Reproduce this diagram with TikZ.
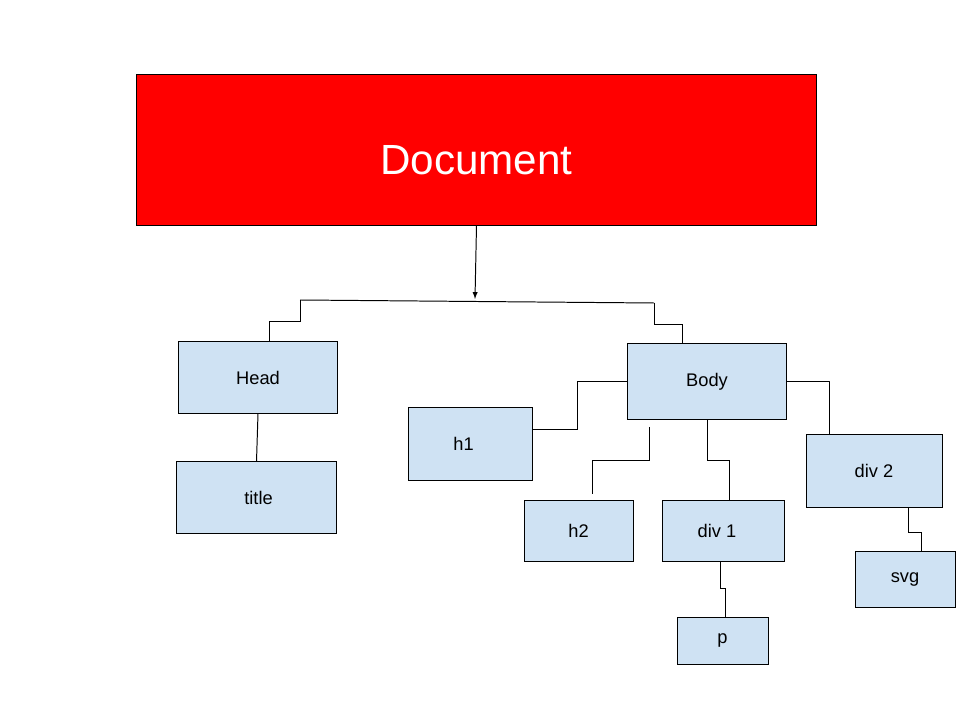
\documentclass[tikz,border=0pt]{standalone}
\usepackage{fontspec}
\setmainfont{Liberation Sans}
\usetikzlibrary{positioning}
\definecolor{docred}{HTML}{FF0000}
\definecolor{boxblue}{HTML}{CFE2F3}
\tikzset{
    box/.style={draw=black,fill=boxblue,line width=0.7pt,inner sep=0pt,font=\fontsize{13}{15}\selectfont},
    link/.style={line width=0.7pt}
}
\begin{document}
\begin{tikzpicture}[x=0.025cm,y=-0.025cm]
    \useasboundingbox[fill=white] (0,0) rectangle (960,720);
    \node[draw=black,fill=docred,line width=0.7pt,text=white,minimum width=16.975cm,minimum height=3.75cm,font=\fontsize{30}{36}\selectfont] (doc) at (476.5,150) {\raisebox{-0.25cm}[\height][0pt]{Document}};
    \node[box,minimum width=3.95cm,minimum height=1.775cm] (head) at (258,377.5) {Head};
    \node[box,minimum width=3.975cm,minimum height=1.775cm] (title) at (256.5,497.5) {\hspace*{0.1cm}title};
    \node[box,minimum width=3.95cm,minimum height=1.875cm] (body) at (707,381.5) {Body};
    \node[box,minimum width=3.075cm,minimum height=1.8cm] (h1) at (470.5,444) {\hspace*{-0.35cm}h1};
    \node[box,minimum width=2.725cm,minimum height=1.5cm] (h2) at (578.5,531) {h2};
    \node[box,minimum width=3.05cm,minimum height=1.5cm] (div1) at (723,531) {\hspace*{-0.3cm}div 1};
    \node[box,minimum width=3.4cm,minimum height=1.8cm] (div2) at (874,471) {div 2};
    \node[box,minimum width=2.5cm,minimum height=1.4cm] (svg) at (905,579) {svg};
    \node[box,minimum width=2.275cm,minimum height=1.175cm] (p) at (722.5,640.5) {p};
    % junctions under the document
    \coordinate (split) at (475,299);
    \coordinate (lefttop) at (300,300);
    \coordinate (righttop) at (654,303);
    \coordinate (htwotop) at (649,427);
    \coordinate (htwoend) at (592,494);
    \draw[link,-latex] (doc.south) -- (split);
    \draw[link] (lefttop) -- (righttop);
    \draw[link] (lefttop) -- ++(0,21) -| ([xshift=0.275cm]head.north);
    \draw[link] (righttop) -- ++(0,21) -| ([xshift=-0.625cm]body.north);
    \draw[link] (head.south) -- (title.north);
    % body children
    \draw[link] (body.west) -- ++(-50,0) |- ([yshift=0.375cm]h1.east);
    \draw[link] (htwotop) -- ++(0,33) -| (htwoend);
    \draw[link] (body.south) -- ++(0,41) -| ([xshift=0.15cm]div1.north);
    \draw[link] (body.east) -- ++(43,0) -| ([xshift=-1.125cm]div2.north);
    \draw[link] ([xshift=0.85cm]div2.south) -- ++(0,25) -| ([xshift=0.4cm]svg.north);
    \draw[link] ([xshift=-0.075cm]div1.south) -- ++(0,27) -| ([xshift=0.0625cm]p.north);
\end{tikzpicture}
\end{document}
